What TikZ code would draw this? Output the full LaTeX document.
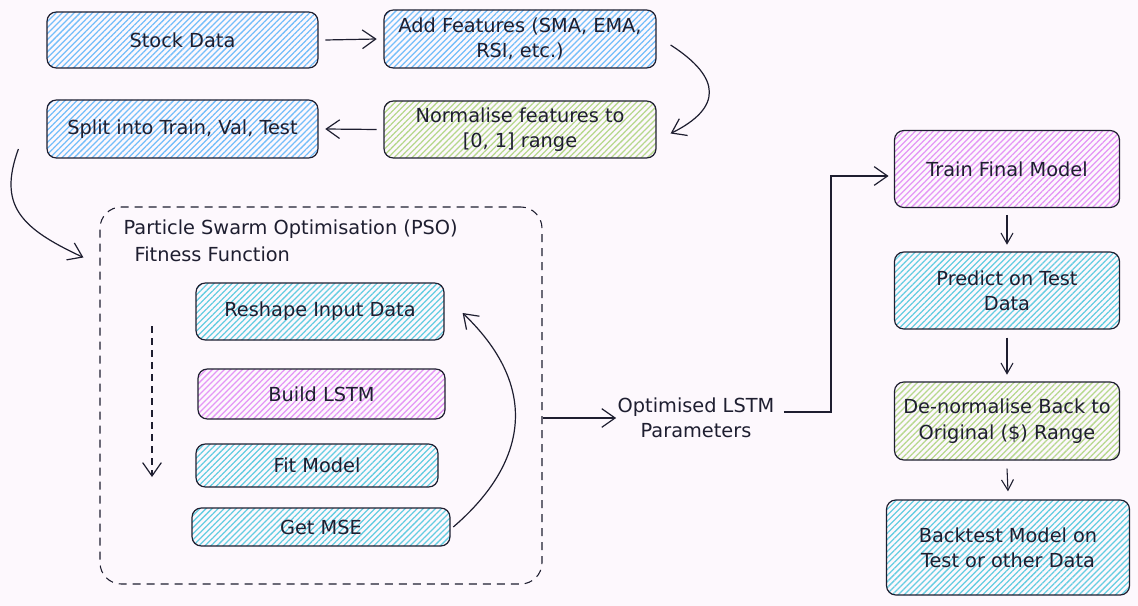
\documentclass[tikz,border=0pt]{standalone}
\usepackage{fontspec}
\setmainfont{DejaVu Sans}
\usetikzlibrary{arrows.meta,patterns.meta,calc}
\definecolor{bgc}{RGB}{253,248,253}
\definecolor{ink}{RGB}{30,30,48}
\definecolor{cblue}{RGB}{116,190,250}
\definecolor{ccyan}{RGB}{100,205,225}
\definecolor{cgreen}{RGB}{182,216,140}
\definecolor{cpurp}{RGB}{228,150,246}
\newcommand{\fs}{\fontsize{14.5}{19}\selectfont}
\tikzset{
  box/.style={draw=ink, line width=0.9pt, rounded corners=7pt, align=center, font=\fs, text=ink, inner sep=1pt},
  hatch/.style={pattern={Lines[angle=45,distance=3.2pt,line width=0.95pt]}, pattern color=#1},
  arr/.style={draw=ink, line width=0.9pt, -{Straight Barb[length=10pt,width=14pt,line width=0.9pt]}},
  sarr/.style={draw=ink, line width=0.8pt, -{Straight Barb[length=8pt,width=9pt,line width=0.8pt]}},
  lbl/.style={font=\fs, text=ink, align=center, inner sep=1pt},
}
\begin{document}
\begin{tikzpicture}[x=0.75pt,y=-0.75pt]
\useasboundingbox (0,0) rectangle (1138,606);
\fill[bgc] (0,0) rectangle (1138,606);

% top flow
\node[box, hatch=cblue, minimum width={271*0.75pt}, minimum height={56*0.75pt}] (sd) at (182.5,40) {Stock Data};
\node[box, hatch=cblue, minimum width={272*0.75pt}, minimum height={58*0.75pt}] (af) at (520,39) {Add Features (SMA, EMA,\\RSI, etc.)};
\node[box, hatch=cgreen, minimum width={272*0.75pt}, minimum height={57*0.75pt}] (nf) at (520,129.5) {Normalise features to\\{[}0, 1{]} range};
\node[box, hatch=cblue, minimum width={271*0.75pt}, minimum height={58*0.75pt}] (sp) at (182.5,129) {Split into Train, Val, Test};

% PSO container
\node[draw=ink, line width=0.8pt, dash pattern=on 6pt off 4.5pt, rounded corners=16pt, minimum width={442*0.75pt}, minimum height={377*0.75pt}, inner sep=0pt] (pso) at (321,395.5) {};
\node[lbl, anchor=west] (pt1) at (122,229) {Particle Swarm Optimisation (PSO)};
\node[lbl, anchor=west] (pt2) at (133,254) {Fitness Function};

\node[box, hatch=ccyan, minimum width={248*0.75pt}, minimum height={57*0.75pt}] (rs) at (320,311.5) {Reshape Input Data};
\node[box, hatch=cpurp, minimum width={247*0.75pt}, minimum height={50*0.75pt}] (bl) at (321.5,394) {Build LSTM};
\node[box, hatch=ccyan, minimum width={242*0.75pt}, minimum height={43*0.75pt}] (fm) at (317,465.5) {Fit Model};
\node[box, hatch=ccyan, minimum width={258*0.75pt}, minimum height={38*0.75pt}] (mse) at (321,527) {Get MSE};

\coordinate (da1) at (152,326);
\coordinate (da2) at (152,477);

% middle label
\node[lbl] (opt) at (696,418) {Optimised LSTM\\Parameters};

% right column
\node[box, hatch=cpurp, minimum width={225*0.75pt}, minimum height={77*0.75pt}] (tf) at (1007,169) {Train Final Model};
\node[box, hatch=ccyan, minimum width={225*0.75pt}, minimum height={77*0.75pt}] (pd) at (1007,290.5) {Predict on Test\\Data};
\node[box, hatch=cgreen, minimum width={225*0.75pt}, minimum height={78*0.75pt}] (dn) at (1007,421) {De-normalise Back to\\Original (\$) Range};
\node[box, hatch=ccyan, minimum width={243*0.75pt}, minimum height={95*0.75pt}] (bt) at (1008,547.5) {Backtest Model on\\Test or other Data};

% connectors
\draw[arr] ([xshift=5pt]sd.east) -- ([xshift=-5pt]af.west);
\draw[arr] ([shift={(14,6)}]af.east) .. controls (722,78) and (722,108) .. ([shift={(14,4)}]nf.east);
\draw[arr] ([xshift=-5pt]nf.west) -- ([xshift=5pt]sp.east);
\draw[arr] ([shift={(-28,20)}]sp.west) .. controls (-2,205) and (20,228) .. ([shift={(-16,51)}]pso.north west);
\draw[arr, dash pattern=on 5pt off 4pt] (da1) -- (da2);
\draw[arr] ([xshift=2pt]mse.east) .. controls (522,468) and (545,392) .. ([shift={(18,1.5)}]rs.east);
\draw[arr] (pso.east |- opt) -- (opt.west);
\coordinate (bend) at (831,176);
\draw[arr] ([shift={(8,-6)}]opt.east) -| (bend) -- ([xshift=-4pt]bend -| tf.west);
\draw[sarr] ([yshift=-5pt]tf.south) -- ([yshift=5pt]pd.north);
\draw[sarr] ([yshift=-6pt]pd.south) -- ([yshift=5pt]dn.north);
\draw[sarr] ([yshift=-6pt]dn.south) -- ([yshift=6pt]bt.north);
\end{tikzpicture}
\end{document}
